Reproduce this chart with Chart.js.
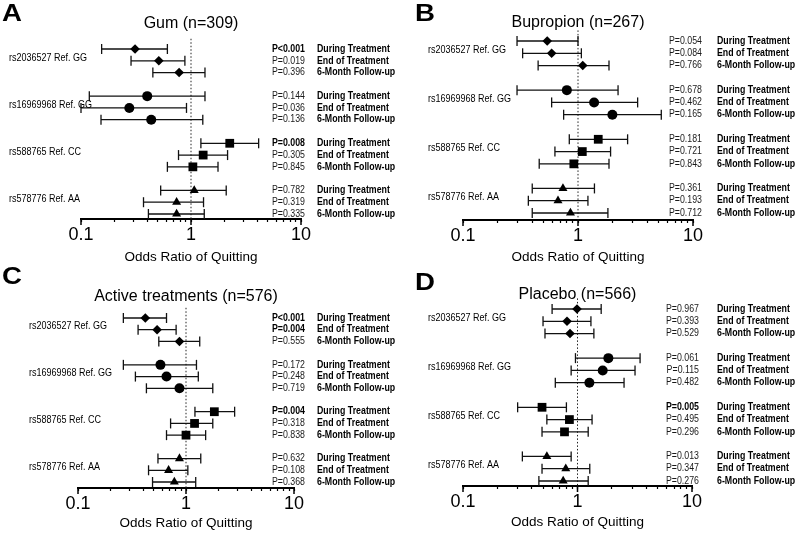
<!DOCTYPE html>
<html>
<head>
<meta charset="utf-8">
<script src="https://cdn.jsdelivr.net/npm/chart.js@4.4.1/dist/chart.umd.min.js"></script>
<style>
  body { margin: 0; background: #fff; }
  #wrap { position: relative; width: 800px; height: 535px; }
  canvas { position: absolute; }
</style>
</head>
<body>
<div id="wrap">
  <canvas id="cA" width="400" height="265" style="left:0;top:0"></canvas>
  <canvas id="cB" width="400" height="265" style="left:400px;top:0"></canvas>
  <canvas id="cC" width="400" height="270" style="left:0;top:265px"></canvas>
  <canvas id="cD" width="400" height="270" style="left:400px;top:265px"></canvas>
</div>
<script>
// categories
const snps = ['rs2036527 Ref. GG', 'rs16969968 Ref. GG', 'rs588765 Ref. CC', 'rs578776 Ref. AA']
const timepoints = ['During Treatment', 'End of Treatment', '6-Month Follow-up']
const xTicks = [0.1, 0.2, 0.3, 0.4, 0.5, 0.6, 0.7, 0.8, 0.9, 1, 2, 3, 4, 5, 6, 7, 8, 9, 10]
const majorTicks = [0.1, 1, 10]
const axisTitle = 'Odds Ratio of Quitting'

/* Gum */
const gumOR = [0.31, 0.51, 0.78, 0.40, 0.275, 0.435, 2.25, 1.29, 1.04, 1.07, 0.74, 0.74]
const gumLow = [0.154, 0.285, 0.45, 0.119, 0.10, 0.152, 1.23, 0.77, 0.61, 0.53, 0.37, 0.41]
const gumHigh = [0.61, 0.88, 1.34, 1.34, 0.91, 1.28, 4.12, 2.15, 1.76, 2.09, 1.30, 1.32]
const gumP = ['P<0.001', 'P=0.019', 'P=0.396', 'P=0.144', 'P=0.036', 'P=0.136', 'P=0.008', 'P=0.305', 'P=0.845', 'P=0.782', 'P=0.319', 'P=0.335']

/* Bupropion */
const bupOR = [0.54, 0.59, 1.10, 0.80, 1.38, 1.99, 1.50, 1.09, 0.92, 0.74, 0.67, 0.86]
const bupLow = [0.295, 0.33, 0.45, 0.295, 0.59, 0.75, 0.84, 0.63, 0.46, 0.40, 0.37, 0.40]
const bupHigh = [1.00, 1.07, 1.86, 2.23, 3.30, 5.3, 2.70, 1.92, 1.86, 1.39, 1.22, 1.82]
const bupP = ['P=0.054', 'P=0.084', 'P=0.766', 'P=0.678', 'P=0.462', 'P=0.165', 'P=0.181', 'P=0.721', 'P=0.843', 'P=0.361', 'P=0.193', 'P=0.712']

/* Active treatments */
const actOR = [0.42, 0.54, 0.87, 0.58, 0.66, 0.87, 1.83, 1.20, 1.00, 0.87, 0.69, 0.78]
const actLow = [0.263, 0.36, 0.56, 0.263, 0.34, 0.43, 1.21, 0.72, 0.66, 0.55, 0.45, 0.49]
const actHigh = [0.66, 0.81, 1.34, 1.25, 1.30, 1.77, 2.82, 1.77, 1.52, 1.37, 1.04, 1.23]
const actP = ['P<0.001', 'P=0.004', 'P=0.555', 'P=0.172', 'P=0.248', 'P=0.719', 'P=0.004', 'P=0.318', 'P=0.838', 'P=0.632', 'P=0.108', 'P=0.368']

/* Placebo */
const plaOR = [0.99, 0.81, 0.86, 1.86, 1.66, 1.27, 0.49, 0.85, 0.77, 0.54, 0.79, 0.75]
const plaLow = [0.60, 0.50, 0.52, 0.96, 0.88, 0.64, 0.30, 0.54, 0.49, 0.33, 0.49, 0.46]
const plaHigh = [1.61, 1.31, 1.39, 3.52, 3.18, 2.55, 0.80, 1.34, 1.24, 0.88, 1.28, 1.24]
const plaP = ['P=0.967', 'P=0.393', 'P=0.529', 'P=0.061', 'P=0.115', 'P=0.482', 'P=0.005', 'P=0.495', 'P=0.296', 'P=0.013', 'P=0.347', 'P=0.276']

const FONT = "'Liberation Sans', Arial, Helvetica, sans-serif"
Chart.defaults.font.family = FONT
Chart.defaults.color = '#000'

const markers = ['rectRot', 'circle', 'rect', 'triangle']
const markerSize = [4.8, 5, 6.2, 5.2]

/* text squeezed sideways, the original font is narrower than Arial */
function squeezed(ctx, text, x, y, align, font, sx) {
    ctx.save()
    ctx.translate(x, y)
    ctx.scale(sx, 1)
    ctx.textAlign = align
    ctx.font = font
    ctx.fillText(text, 0, 0)
    ctx.restore()
}

// texts, dotted line at OR = 1, longer major ticks
const decor = {
    id: 'decor',
    beforeDatasetsDraw(chart, args, o) {
        const { ctx, chartArea } = chart
        const x = chart.scales.x.getPixelForValue(1)
        ctx.save()
        ctx.setLineDash([1.5, 2])
        ctx.strokeStyle = '#222'
        ctx.lineWidth = 1
        ctx.beginPath()
        ctx.moveTo(x, chartArea.top - 2)
        ctx.lineTo(x, chartArea.bottom)
        ctx.stroke()
        ctx.restore()
    },
    afterDraw(chart, args, o) {
        const { ctx, chartArea } = chart
        const xs = chart.scales.x, ys = chart.scales.y
        ctx.save()
        // longer ticks at decades
        ctx.strokeStyle = '#000'
        ctx.lineWidth = 1.5
        majorTicks.forEach(v => {
            const x = xs.getPixelForValue(v)
            ctx.beginPath()
            ctx.moveTo(x, chartArea.bottom)
            ctx.lineTo(x, chartArea.bottom + 6)
            ctx.stroke()
        })
        ctx.fillStyle = '#000'
        ctx.textBaseline = 'middle'
        // panel letter
        squeezed(ctx, o.letter, o.letterX, o.letterY, 'left', `bold 23px ${FONT}`, 1.2)
        // title
        ctx.textAlign = 'center'
        ctx.font = `16px ${FONT}`
        ctx.fillText(o.title, (chartArea.left + chartArea.right) / 2, o.titleY)
        // snp labels
        snps.forEach((s, g) => {
            squeezed(ctx, s, o.labelX, ys.getPixelForValue(g * 4 + 1) - 3, 'left', `10px ${FONT}`, 0.9)
        })
        // p values and time points
        o.p.forEach((p, i) => {
            const y = ys.getPixelForValue(Math.floor(i / 3) * 4 + i % 3)
            const sig = p.startsWith('P<') || parseFloat(p.slice(2)) < 0.01
            ctx.fillStyle = sig ? '#000' : '#1a1a1a'
            squeezed(ctx, p, o.pRight, y, 'right', `${sig ? 'bold ' : ''}10px ${FONT}`, 0.88)
            ctx.fillStyle = '#000'
            squeezed(ctx, timepoints[i % 3], o.tpLeft, y, 'left', `bold 10px ${FONT}`, 0.88)
        })
        ctx.restore()
    }
}

function makePanel(L, letter, title, or, low, high, p) {
    const step = (L.row14 - L.row0) / 14
    const yMin = -0.7
    const yMax = 14 + (L.axisY - L.row14) / step
    const datasets = []
    snps.forEach((s, g) => {
        datasets.push({
            label: s,
            order: 0,
            data: [0, 1, 2].map(k => ({ x: or[g * 3 + k], y: g * 4 + k })),
            pointStyle: markers[g],
            pointRadius: markerSize[g],
            pointBackgroundColor: '#000',
            pointBorderColor: '#000',
            pointBorderWidth: 0,
            clip: false
        })
    })
    low.forEach((lo, i) => {
        const r = Math.floor(i / 3) * 4 + i % 3
        datasets.push({
            order: 1,
            showLine: true,
            data: [{ x: lo, y: r }, { x: high[i], y: r }],
            borderColor: '#111',
            borderWidth: 1.3,
            pointStyle: 'line',
            pointRotation: 90,
            pointRadius: 5,
            pointBorderWidth: 1.3,
            pointBorderColor: '#111',
            clip: false
        })
    })
    return new Chart(document.getElementById(L.id), {
        type: 'scatter',
        data: { datasets },
        options: {
            responsive: false,
            animation: false,
            layout: { padding: { left: L.x01, right: L.W - L.x10, top: L.row0 + yMin * step, bottom: 0 } },
            scales: {
                x: {
                    type: 'logarithmic',
                    min: 0.1,
                    max: 10,
                    afterBuildTicks: ax => { ax.ticks = xTicks.map(v => ({ value: v })) },
                    afterFit: ax => { ax.height = L.H - L.axisY },
                    ticks: {
                        autoSkip: false,
                        maxRotation: 0,
                        padding: 2,
                        color: '#000',
                        font: { size: 18 },
                        callback: v => majorTicks.includes(v) ? String(v) : ''
                    },
                    grid: { drawOnChartArea: false, drawTicks: true, tickLength: 3, tickColor: '#000', tickWidth: 1.2 },
                    border: { color: '#000', width: 2 },
                    title: {
                        display: true,
                        text: axisTitle,
                        color: '#000',
                        font: { size: 13.5 },
                        padding: { top: 0, bottom: Math.max(0, L.H - L.axisTitleY - 8.1) }
                    }
                },
                y: { type: 'linear', reverse: true, min: yMin, max: yMax, display: false }
            },
            plugins: {
                legend: { display: false },
                tooltip: { enabled: false },
                decor: { letter, title, p, letterX: L.letterX, letterY: L.letterY, titleY: L.titleY, labelX: L.labelX, pRight: L.pRight, tpLeft: L.tpLeft }
            }
        },
        plugins: [decor]
    })
}

makePanel({ id: 'cA', W: 400, H: 265, x01: 81, x10: 301, row0: 49, row14: 214, axisY: 219, titleY: 24, letterX: 2, letterY: 15, labelX: 9, pRight: 305, tpLeft: 317, axisTitleY: 257 },
    'A', 'Gum (n=309)', gumOR, gumLow, gumHigh, gumP)
makePanel({ id: 'cB', W: 400, H: 265, x01: 63, x10: 293, row0: 41, row14: 213, axisY: 220, titleY: 23, letterX: 15, letterY: 15, labelX: 28, pRight: 302, tpLeft: 317, axisTitleY: 258 },
    'B', 'Bupropion (n=267)', bupOR, bupLow, bupHigh, bupP)
makePanel({ id: 'cC', W: 400, H: 270, x01: 78, x10: 294, row0: 53, row14: 217, axisY: 223, titleY: 32, letterX: 2, letterY: 13, labelX: 29, pRight: 305, tpLeft: 317, axisTitleY: 258 },
    'C', 'Active treatments (n=576)', actOR, actLow, actHigh, actP)
makePanel({ id: 'cD', W: 400, H: 270, x01: 63, x10: 292, row0: 44, row14: 216, axisY: 221, titleY: 30, letterX: 15, letterY: 19, labelX: 28, pRight: 299, tpLeft: 317, axisTitleY: 257 },
    'D', 'Placebo (n=566)', plaOR, plaLow, plaHigh, plaP)
</script>
</body>
</html>
